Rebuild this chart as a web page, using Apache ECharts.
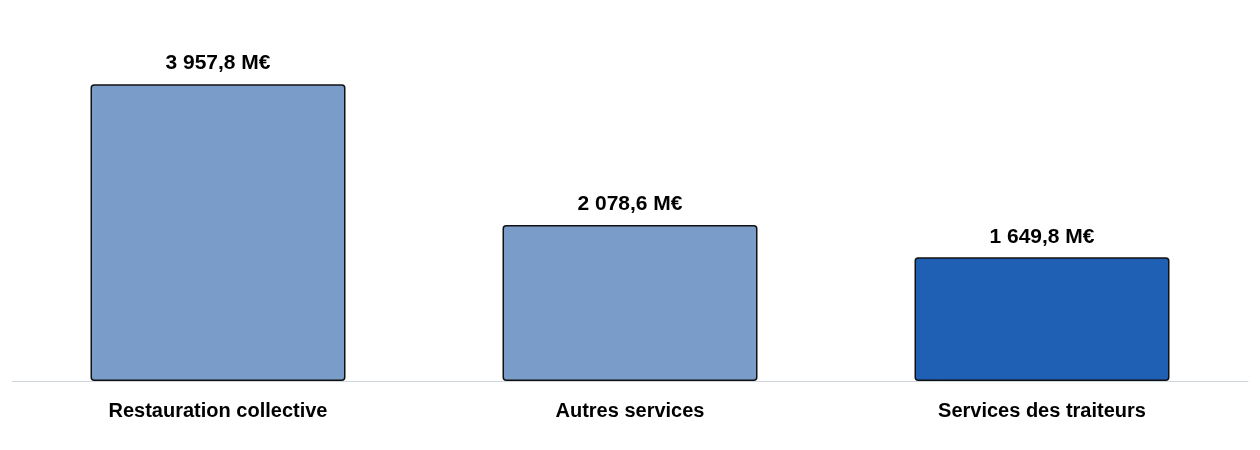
<!DOCTYPE html>
<html>
<head>
<meta charset="utf-8">
<script src="https://cdn.jsdelivr.net/npm/echarts@6/dist/echarts.min.js"></script>
<style>
  html, body { margin:0; padding:0; background:#fff; }
  #c { width:1260px; height:450px; }
</style>
</head>
<body>
<div id="c"></div>
<script>
var categories = ['Restauration collective', 'Autres services', 'Services des traiteurs'];
var values = [3957.8, 2078.6, 1649.8];
var barColors = ['#7a9cc8', '#7a9cc8', '#1f5fb4'];

// format "3 957,8 M€"
function fmt(v){
    var p = v.toFixed(1).split('.');
    var ent = p[0].replace(/\B(?=(\d{3})+(?!\d))/g, ' ');
    return ent + ',' + p[1] + ' M€';
}

var chart = echarts.init(document.getElementById('c'));
var option = {
    animation: false,
    textStyle: { fontFamily: 'Liberation Sans, Arial, sans-serif' },
    grid: { left:12, right:12, top:81, bottom:69 },
    xAxis: {
        type: 'category',
        data: categories,
        axisLine: { lineStyle: { color:'#cfd6de', width:1 } },
        axisTick: { show:false },
        axisLabel: {
            color:'#000',
            fontSize:20,
            fontWeight:'bold',
            margin:20
        }
    },
    yAxis: {
        type: 'value',
        min: 0,
        max: 4000,
        show: false,
        splitLine: { show:false }
    },
    series: [{
        type: 'bar',
        barWidth: 255,
        data: values.map(function(v, i){
            return { value: v, itemStyle: { color: barColors[i] } };
        }),
        itemStyle: {
            borderColor: '#111',
            borderWidth: 1.5,
            borderRadius: 3
        },
        label: {
            show: true,
            position: 'top',
            distance: 10,
            color: '#000',
            fontSize: 21,
            fontWeight: 'bold',
            formatter: function(p){ return fmt(p.value); }
        }
    }]
};
chart.setOption(option);
</script>
</body>
</html>
